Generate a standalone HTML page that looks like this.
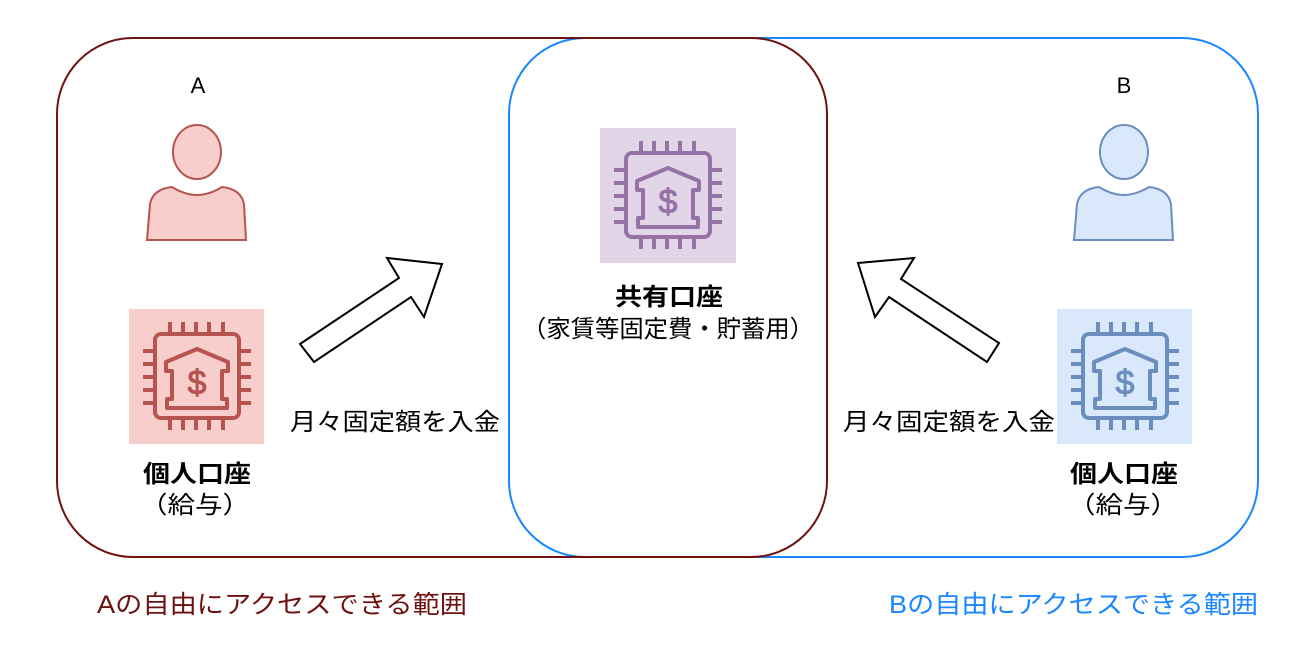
<!DOCTYPE html>
<html><head><meta charset="utf-8"><style>
html,body{margin:0;padding:0;background:#fff;width:1300px;height:656px;overflow:hidden}
svg text{font-family:"Liberation Sans","Noto Sans CJK JP",sans-serif}
</style></head><body>
<svg width="1300" height="656" viewBox="0 0 1300 656" xmlns="http://www.w3.org/2000/svg">
<defs>
<g id="chip">
  <g fill="none" stroke="currentColor" stroke-width="4">
  <rect x="26" y="25" width="84" height="84" rx="6"/>
  <path d="M41 13V25M54 13V25M67 13V25M80 13V25M94 13V25M41 109V121M54 109V121M67 109V121M80 109V121M94 109V121M14 42H26M14 55H26M14 68H26M14 81H26M14 94H26M110 42H122M110 55H122M110 68H122M110 81H122M110 94H122"/>
  <path d="M37 62V53L68 40L99 53V62H93V90H98V99H38V90H43V62Z" stroke-linejoin="round"/>
  </g>
  <text x="68" y="85" font-size="34" text-anchor="middle" fill="currentColor" stroke="currentColor" stroke-width="1" font-family="Liberation Sans, sans-serif">$</text>
</g>
</defs>
<rect x="509" y="38" width="749" height="519" rx="76" fill="none" stroke="#1a86ff" stroke-width="2"/>
<rect x="57" y="38" width="770" height="519" rx="76" fill="none" stroke="#6e1212" stroke-width="2"/>

<text x="198" y="93" font-size="22" text-anchor="middle">A</text>
<text x="1124" y="93" font-size="22" text-anchor="middle">B</text>

<g fill="#f8cecc" stroke="#b85450" stroke-width="2">
<ellipse cx="197" cy="152" rx="24" ry="27"/>
<path d="M147 240L150 204Q153 189 172 187Q185 195 197 195Q209 195 222 187Q241 189 244 204L246 240Z"/>
</g>
<g fill="#dae8fc" stroke="#6c8ebf" stroke-width="2">
<ellipse cx="1124" cy="152" rx="24" ry="27"/>
<path d="M1074 240L1077 204Q1080 189 1099 187Q1112 195 1124 195Q1136 195 1149 187Q1168 189 1171 204L1173 240Z"/>
</g>

<rect x="129" y="309" width="135" height="135" fill="#f8cecc"/>
<g transform="translate(129,309)" color="#b85450" style="color:#b85450"><use href="#chip"/></g>
<rect x="600" y="128" width="136" height="135" fill="#e1d5e7"/>
<g transform="translate(600,128)" color="#9673a6" style="color:#9673a6"><use href="#chip"/></g>
<rect x="1057" y="309" width="135" height="135" fill="#dae8fc"/>
<g transform="translate(1057,309)" color="#6c8ebf" style="color:#6c8ebf"><use href="#chip"/></g>

<polygon points="300,344 399,278 387,258 442,264 424,317 411,297 314,362" fill="#fff" stroke="#000" stroke-width="2"/>
<polygon points="858,263 914,258 901,279 999,343 987,362 889,297 875,317" fill="#fff" stroke="#000" stroke-width="2"/>

<text x="143" y="482" font-size="24" font-weight="bold" textLength="108" lengthAdjust="spacingAndGlyphs">個人口座</text>
<text x="140" y="513" font-size="24" textLength="110" lengthAdjust="spacingAndGlyphs">（給与）</text>
<text x="1070" y="482" font-size="24" font-weight="bold" textLength="108" lengthAdjust="spacingAndGlyphs">個人口座</text>
<text x="1068" y="513" font-size="24" textLength="110" lengthAdjust="spacingAndGlyphs">（給与）</text>
<text x="615" y="305" font-size="24" font-weight="bold" textLength="108" lengthAdjust="spacingAndGlyphs">共有口座</text>
<text x="522" y="337" font-size="24" textLength="292" lengthAdjust="spacingAndGlyphs">（家賃等固定費・貯蓄用）</text>
<text x="290" y="430" font-size="24" textLength="210" lengthAdjust="spacingAndGlyphs">月々固定額を入金</text>
<text x="843" y="430" font-size="24" textLength="212" lengthAdjust="spacingAndGlyphs">月々固定額を入金</text>
<text x="97" y="613" font-size="25" fill="#6e1010" textLength="370" lengthAdjust="spacingAndGlyphs">Aの自由にアクセスできる範囲</text>
<text x="889" y="613" font-size="25" fill="#1a86ff" textLength="369" lengthAdjust="spacingAndGlyphs">Bの自由にアクセスできる範囲</text>
</svg>
</body></html>
